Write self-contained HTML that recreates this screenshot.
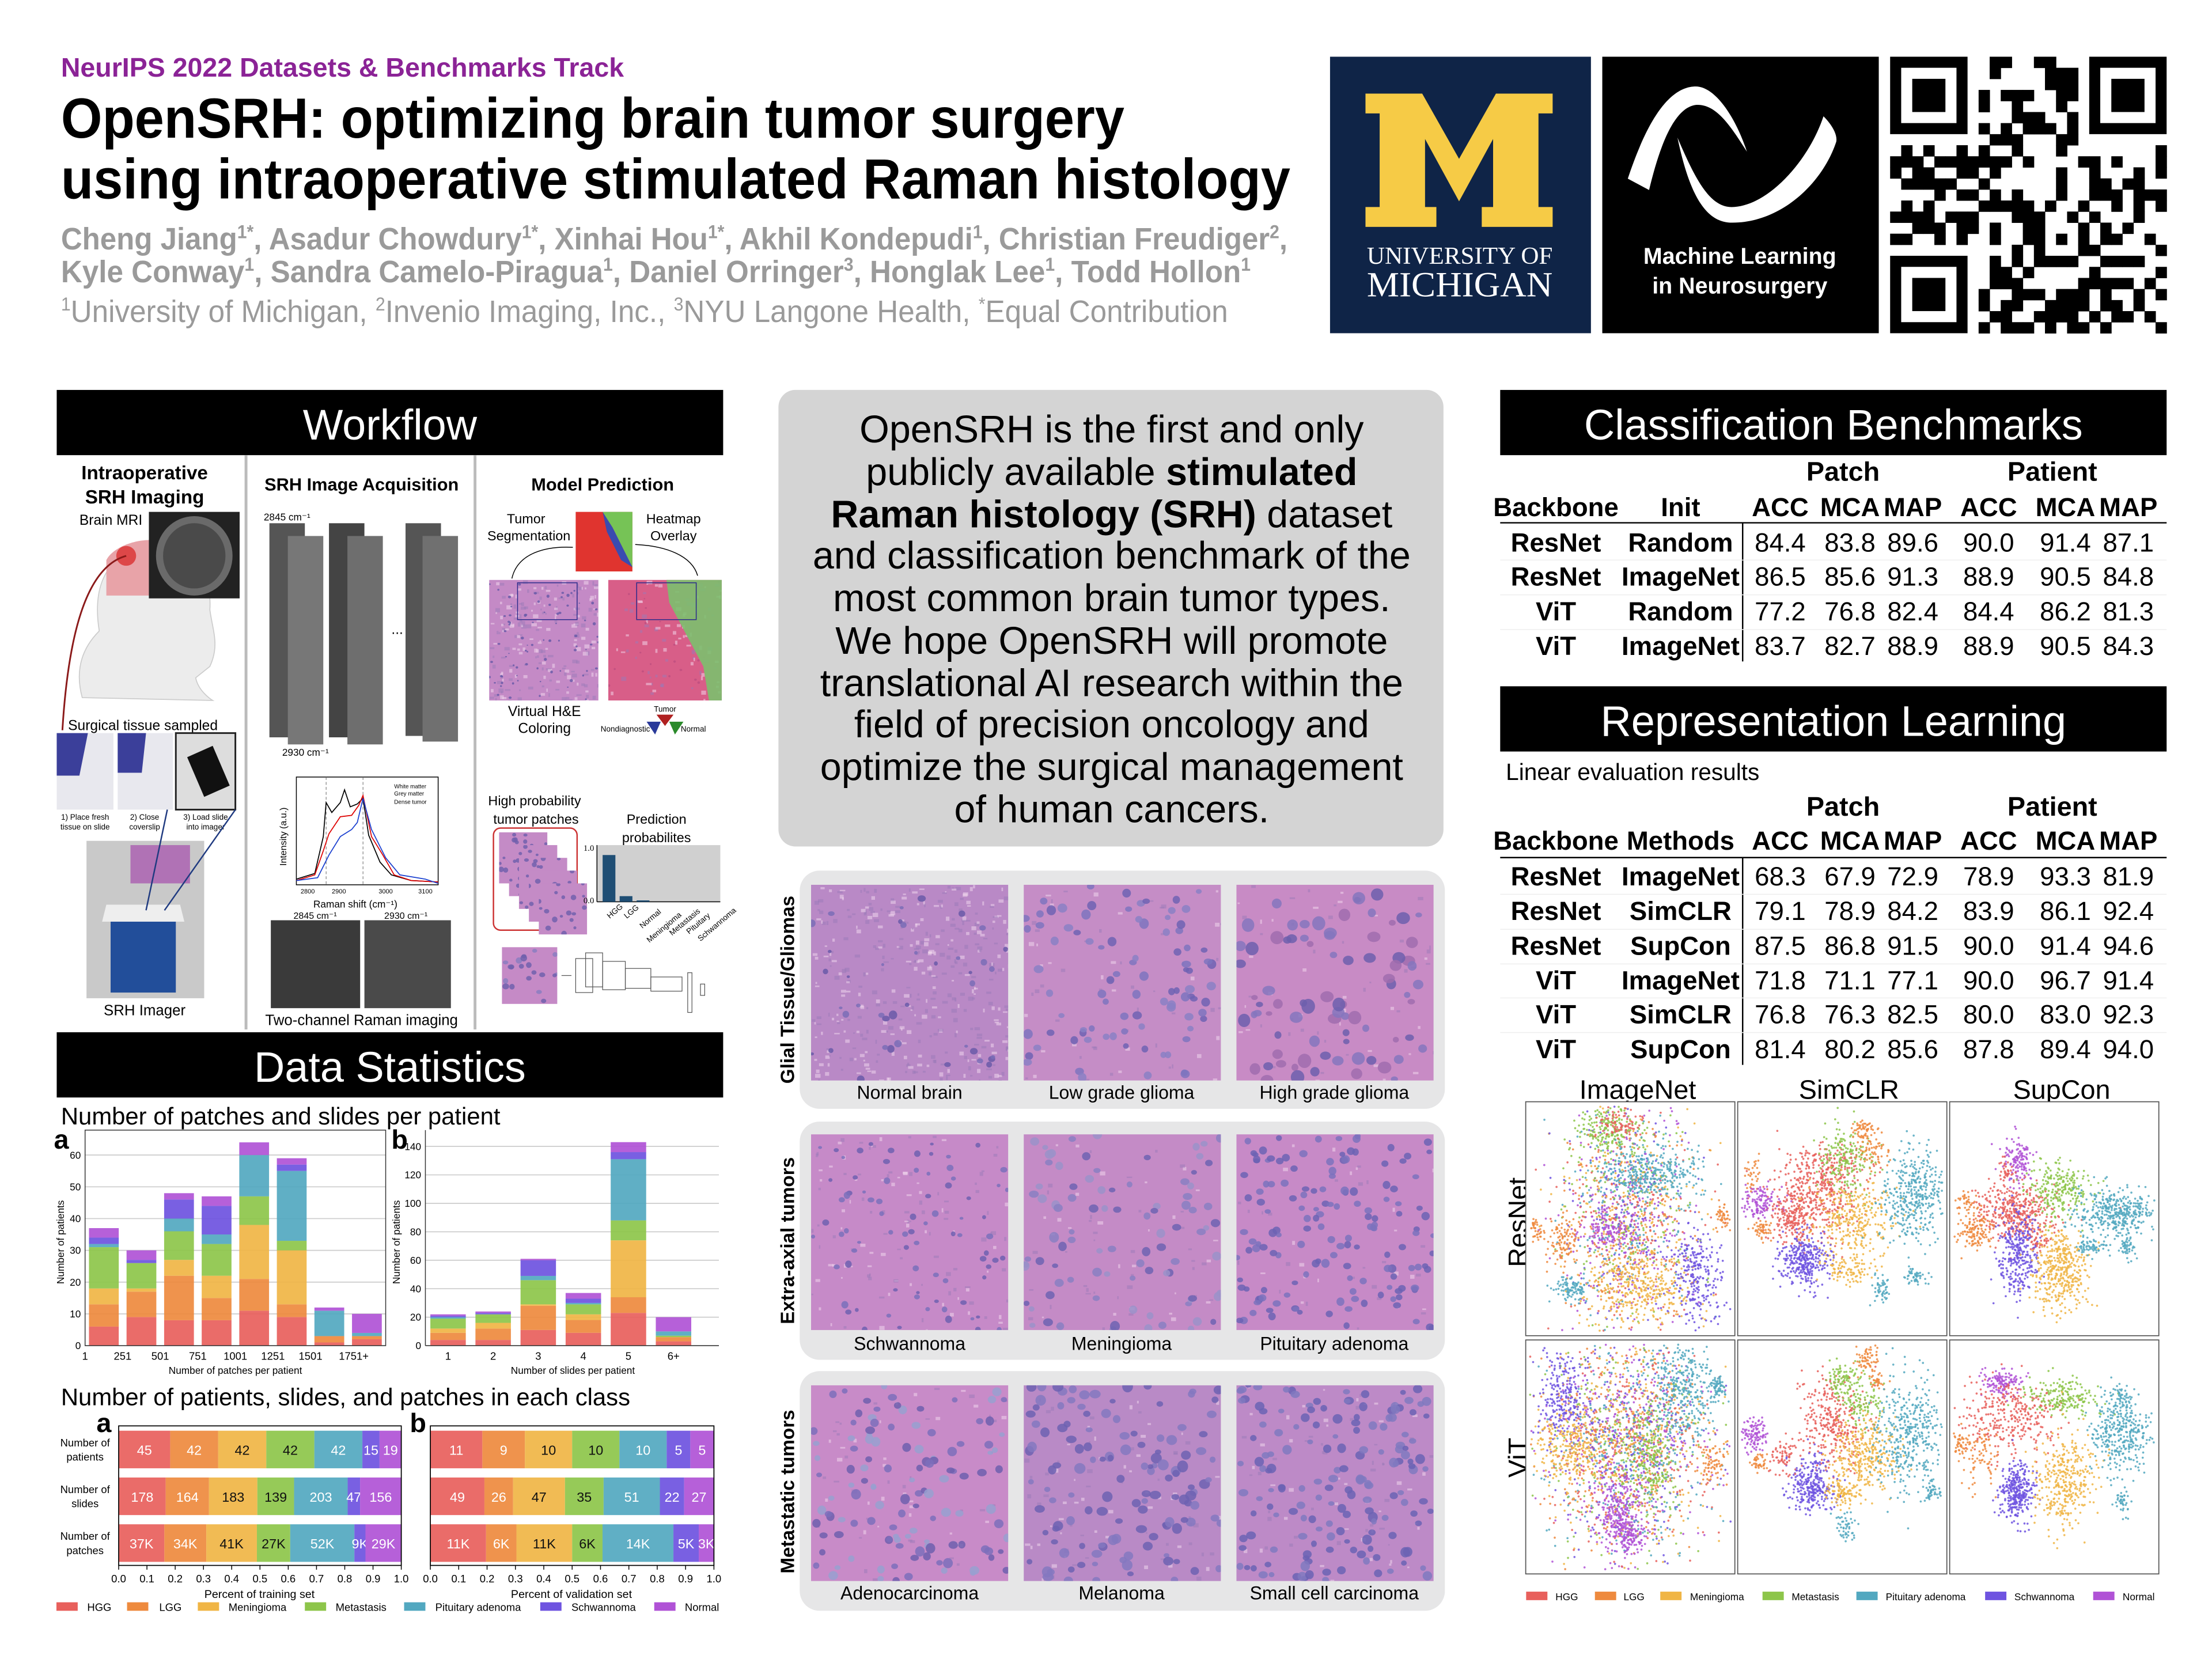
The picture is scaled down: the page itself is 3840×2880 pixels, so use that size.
<!DOCTYPE html>
<html><head><meta charset="utf-8">
<style>
html,body{margin:0;padding:0;background:#fff}
svg{display:block}
text{font-family:"Liberation Sans",Arial,sans-serif}
.b{font-weight:bold}
</style></head>
<body>
<svg id="s" xmlns="http://www.w3.org/2000/svg" width="3840" height="2880" viewBox="0 0 1560 1170">
<rect x="0" y="0" width="1560" height="1170" fill="#fff"/>
<!-- header -->
<text x="43" y="54" class="b" font-size="19" fill="#8B2396" textLength="397" lengthAdjust="spacingAndGlyphs">NeurIPS 2022 Datasets &amp; Benchmarks Track</text>
<text x="43" y="97" class="b" font-size="40" fill="#000" textLength="750" lengthAdjust="spacingAndGlyphs">OpenSRH: optimizing brain tumor surgery</text>
<text x="43" y="140" class="b" font-size="40" fill="#000" textLength="867" lengthAdjust="spacingAndGlyphs">using intraoperative stimulated Raman histology</text>
<text x="43" y="176" class="b" font-size="22" fill="#9a9a9a" textLength="865" lengthAdjust="spacingAndGlyphs">Cheng Jiang<tspan font-size="13" dy="-8">1*</tspan><tspan dy="8">, Asadur Chowdury</tspan><tspan font-size="13" dy="-8">1*</tspan><tspan dy="8">, Xinhai Hou</tspan><tspan font-size="13" dy="-8">1*</tspan><tspan dy="8">, Akhil Kondepudi</tspan><tspan font-size="13" dy="-8">1</tspan><tspan dy="8">, Christian Freudiger</tspan><tspan font-size="13" dy="-8">2</tspan><tspan dy="8">,</tspan></text>
<text x="43" y="199" class="b" font-size="22" fill="#9a9a9a" textLength="839" lengthAdjust="spacingAndGlyphs">Kyle Conway<tspan font-size="13" dy="-8">1</tspan><tspan dy="8">, Sandra Camelo-Piragua</tspan><tspan font-size="13" dy="-8">1</tspan><tspan dy="8">, Daniel Orringer</tspan><tspan font-size="13" dy="-8">3</tspan><tspan dy="8">, Honglak Lee</tspan><tspan font-size="13" dy="-8">1</tspan><tspan dy="8">, Todd Hollon</tspan><tspan font-size="13" dy="-8">1</tspan></text>
<text x="43" y="227" font-size="22" fill="#9a9a9a" textLength="823" lengthAdjust="spacingAndGlyphs"><tspan font-size="13" dy="-8">1</tspan><tspan dy="8">University of Michigan, </tspan><tspan font-size="13" dy="-8">2</tspan><tspan dy="8">Invenio Imaging, Inc., </tspan><tspan font-size="13" dy="-8">3</tspan><tspan dy="8">NYU Langone Health, </tspan><tspan font-size="13" dy="-8">*</tspan><tspan dy="8">Equal Contribution</tspan></text>

<!-- Michigan -->
<rect x="938" y="40" width="184" height="195" fill="#0F2447"/>
<polygon fill="#F6CB46" points="963,66 1003,66 1029,112 1055,66 1095,66 1095,80 1085,80 1085,146 1095,146 1095,160 1045,160 1045,146 1053,146 1053,98 1029,142 1005,98 1005,146 1013,146 1013,160 963,160 963,146 973,146 973,80 963,80"/>
<text x="964" y="186" font-size="17" fill="#fff" textLength="131" lengthAdjust="spacingAndGlyphs" style="font-family:'Liberation Serif',serif">UNIVERSITY OF</text>
<text x="964" y="209" font-size="25" fill="#fff" textLength="131" lengthAdjust="spacingAndGlyphs" style="font-family:'Liberation Serif',serif">MICHIGAN</text>
<!-- ML box -->
<rect x="1130" y="40" width="195" height="195" fill="#000"/>
<path fill="#fff" d="M1148,126 C1160,90 1175,62 1195,61 C1210,60 1225,85 1232,107 C1220,88 1210,73 1196,74 C1180,76 1170,105 1163,134 Z"/>
<path fill="#fff" d="M1183,97 C1195,125 1205,145 1220,146 C1245,147 1275,115 1286,82 C1292,88 1296,95 1295,100 C1285,130 1255,158 1220,157 C1200,156 1190,130 1183,97 Z"/>
<text x="1227" y="186" text-anchor="middle" class="b" font-size="16" fill="#fff">Machine Learning</text>
<text x="1227" y="207" text-anchor="middle" class="b" font-size="16" fill="#fff">in Neurosurgery</text>
<g id="qr"></g>

<!-- Workflow -->
<rect x="40" y="275" width="470" height="46" fill="#000"/>
<text x="275" y="310" text-anchor="middle" font-size="30" fill="#fff">Workflow</text>
<g id="wf">
<line x1="173.5" y1="321" x2="173.5" y2="726" stroke="#bbb" stroke-width="2"/>
<line x1="335" y1="321" x2="335" y2="726" stroke="#bbb" stroke-width="2"/>
<text x="102" y="338" text-anchor="middle" class="b" font-size="13.5">Intraoperative</text>
<text x="102" y="355" text-anchor="middle" class="b" font-size="13.5">SRH Imaging</text>
<text x="56" y="370" font-size="10">Brain MRI</text>
<path d="M58,492 C52,470 60,455 70,445 C66,420 70,395 100,385 C130,380 150,400 148,430 C150,445 155,455 148,470 L138,478 C140,488 150,494 150,494 Z" fill="#ececec" stroke="#ccc" stroke-width="0.7"/>
<path d="M75,395 C80,385 100,378 115,382 L112,420 L75,420 Z" fill="#e8a3a8"/>
<circle cx="89" cy="392" r="7" fill="#d93030" opacity="0.8"/>
<rect x="105" y="361" width="64" height="61" fill="#222"/>
<ellipse cx="137" cy="392" rx="27" ry="28" fill="#6a6a6a"/>
<ellipse cx="137" cy="392" rx="22" ry="23" fill="#4a4a4a"/>
<path d="M89,392 C60,400 48,450 44,515" fill="none" stroke="#8b1a1a" stroke-width="1.2"/>
<text x="48" y="515" font-size="10">Surgical tissue sampled</text>
<rect x="40" y="517" width="40" height="54" fill="#e8e8ee"/><path d="M40,517 h22 l-6,30 h-16z" fill="#3b3f9a"/>
<rect x="83" y="517" width="39" height="54" fill="#e8e8ee"/><path d="M83,517 h20 l-3,28 h-17z" fill="#3b3f9a"/>
<rect x="124" y="517" width="42" height="54" fill="#ddd" stroke="#222" stroke-width="1.2"/><path d="M132,534 l18,-8 l12,28 l-18,8z" fill="#111"/>
<text x="60" y="578" text-anchor="middle" font-size="5.5">1) Place fresh</text><text x="60" y="585" text-anchor="middle" font-size="5.5">tissue on slide</text>
<text x="102" y="578" text-anchor="middle" font-size="5.5">2) Close</text><text x="102" y="585" text-anchor="middle" font-size="5.5">coverslip</text>
<text x="145" y="578" text-anchor="middle" font-size="5.5">3) Load slide</text><text x="145" y="585" text-anchor="middle" font-size="5.5">into imager</text>
<rect x="61" y="593" width="83" height="111" fill="#c9c9c9"/>
<rect x="92" y="596" width="42" height="27" fill="#b072b5"/>
<rect x="78" y="648" width="46" height="52" fill="#224e9a"/>
<path d="M75,638 h52 l3,12 h-58z" fill="#eee"/>
<line x1="118" y1="571" x2="103" y2="642" stroke="#1f3a80" stroke-width="1"/>
<line x1="166" y1="571" x2="116" y2="642" stroke="#1f3a80" stroke-width="1"/>
<text x="102" y="716" text-anchor="middle" font-size="10.5">SRH Imager</text>

<text x="255" y="346" text-anchor="middle" class="b" font-size="12.5">SRH Image Acquisition</text>
<text x="186" y="367" font-size="7">2845 cm⁻¹</text>
<rect x="190" y="369" width="25" height="151" fill="#555"/>
<rect x="203" y="378" width="25" height="147" fill="#777"/>
<rect x="232" y="369" width="25" height="151" fill="#444"/>
<rect x="245" y="378" width="25" height="147" fill="#6e6e6e"/>
<text x="276" y="447" font-size="10">...</text>
<rect x="286" y="369" width="25" height="150" fill="#555"/>
<rect x="298" y="378" width="25" height="145" fill="#707070"/>
<text x="199" y="533" font-size="7">2930 cm⁻¹</text>
<g id="spec"></g>
<text x="221" y="640" font-size="7">Raman shift (cm⁻¹)</text>
<text x="207" y="648" font-size="6.5">2845 cm⁻¹</text><text x="271" y="648" font-size="6.5">2930 cm⁻¹</text>
<rect x="191" y="649" width="63" height="62" fill="#3a3a3a"/>
<rect x="257" y="649" width="61" height="62" fill="#4a4a4a"/>
<text x="255" y="723" text-anchor="middle" font-size="10.5">Two-channel Raman imaging</text>

<text x="425" y="346" text-anchor="middle" class="b" font-size="12.5">Model Prediction</text>
<text x="371" y="369" text-anchor="middle" font-size="9.5">Tumor</text>
<text x="373" y="381" text-anchor="middle" font-size="9.5">Segmentation</text>
<text x="475" y="369" text-anchor="middle" font-size="9.5">Heatmap</text>
<text x="475" y="381" text-anchor="middle" font-size="9.5">Overlay</text>
<rect x="406" y="361" width="40" height="42" fill="#e0342f"/>
<polygon points="425,361 446,361 446,400 440,388 432,372" fill="#76c356"/>
<polygon points="425,361 432,372 440,388 446,400 438,395 428,375" fill="#3a4bb0"/>
<path d="M361,408 C365,390 385,385 404,386" fill="none" stroke="#000" stroke-width="0.6"/>
<path d="M448,384 C470,385 488,392 492,406" fill="none" stroke="#000" stroke-width="0.6"/>
<g id="he"></g>
<text x="384" y="505" text-anchor="middle" font-size="10">Virtual H&amp;E</text>
<text x="384" y="517" text-anchor="middle" font-size="10">Coloring</text>
<text x="469" y="502" text-anchor="middle" font-size="5.5">Tumor</text>
<text x="441" y="516" text-anchor="middle" font-size="5.5">Nondiagnostic</text>
<text x="489" y="516" text-anchor="middle" font-size="5.5">Normal</text>
<polygon points="463,504 475,504 469,512" fill="#b02020"/>
<polygon points="456,509 466,509 462,518" fill="#2a3a9a"/>
<polygon points="472,509 482,509 476,518" fill="#2a8a2a"/>
<text x="377" y="568" text-anchor="middle" font-size="9.5">High probability</text>
<text x="378" y="581" text-anchor="middle" font-size="9.5">tumor patches</text>
<text x="463" y="581" text-anchor="middle" font-size="9.5">Prediction</text>
<text x="463" y="594" text-anchor="middle" font-size="9.5">probabilites</text>
<rect x="348" y="584" width="59" height="72" rx="5" fill="none" stroke="#c33" stroke-width="1"/>
<g id="patches"></g>
<rect x="421" y="596" width="87" height="40" fill="#d0d0d0"/>
<line x1="421" y1="596" x2="421" y2="636" stroke="#000" stroke-width="0.6"/>
<line x1="421" y1="636" x2="508" y2="636" stroke="#000" stroke-width="0.6"/>
<rect x="425" y="603" width="9" height="33" fill="#1f4e74"/>
<rect x="437" y="632" width="9" height="4" fill="#1f4e74"/>
<rect x="449" y="635" width="9" height="1" fill="#1f4e74"/>
<text x="419" y="600" text-anchor="end" font-size="6" style="font-family:'Liberation Serif',serif">1.0</text>
<text x="419" y="637" text-anchor="end" font-size="6" style="font-family:'Liberation Serif',serif">0.0</text>
<g font-size="5.5">
<text transform="translate(430,648) rotate(-40)">HGG</text>
<text transform="translate(442,648) rotate(-40)">LGG</text>
<text transform="translate(453,655) rotate(-40)">Normal</text>
<text transform="translate(458,665) rotate(-40)">Meningioma</text>
<text transform="translate(474,660) rotate(-40)">Metastasis</text>
<text transform="translate(486,659) rotate(-40)">Pituitary</text>
<text transform="translate(494,664) rotate(-40)">Schwannoma</text>
</g>
<g id="smallpatch"></g>
<g fill="none" stroke="#555" stroke-width="0.5">
<line x1="396" y1="688" x2="403" y2="688"/>
<rect x="406" y="676" width="12" height="24"/><rect x="413" y="672" width="12" height="24"/>
<rect x="425" y="678" width="16" height="20"/><rect x="441" y="683" width="18" height="14"/>
<rect x="459" y="689" width="22" height="10"/><rect x="485" y="686" width="3" height="28"/>
<rect x="494" y="694" width="3" height="8"/>
</g>
</g>

<!-- Data statistics -->
<rect x="40" y="728" width="470" height="46" fill="#000"/>
<text x="275" y="763" text-anchor="middle" font-size="30" fill="#fff">Data Statistics</text>
<text x="43" y="793" font-size="17">Number of patches and slides per patient</text>
<text x="38" y="810" class="b" font-size="19">a</text>
<text x="276" y="810" class="b" font-size="19">b</text>
<text x="43" y="991" font-size="17">Number of patients, slides, and patches in each class</text>
<text x="68" y="1010" class="b" font-size="19">a</text>
<text x="289" y="1010" class="b" font-size="19">b</text>
<g id="charts"></g>

<!-- middle -->
<rect x="549" y="275" width="469" height="322" rx="12" fill="#d4d4d4"/>
<g font-size="27" text-anchor="middle" fill="#000">
<text x="784" y="312">OpenSRH is the first and only</text>
<text x="784" y="342">publicly available <tspan class="b">stimulated</tspan></text>
<text x="784" y="372"><tspan class="b">Raman histology (SRH)</tspan> dataset</text>
<text x="784" y="401">and classification benchmark of the</text>
<text x="784" y="431">most common brain tumor types.</text>
<text x="784" y="461">We hope OpenSRH will promote</text>
<text x="784" y="491">translational AI research within the</text>
<text x="784" y="520">field of precision oncology and</text>
<text x="784" y="550">optimize the surgical management</text>
<text x="784" y="580">of human cancers.</text>
</g>
<rect x="564" y="614" width="455" height="168" rx="14" fill="#e6e6e7"/>
<rect x="564" y="791" width="455" height="168" rx="14" fill="#e6e6e7"/>
<rect x="564" y="967" width="455" height="169" rx="14" fill="#e6e6e7"/>
<g class="b" font-size="13.5" text-anchor="middle">
<text transform="translate(560,698) rotate(-90)">Glial Tissue/Gliomas</text>
<text transform="translate(560,875) rotate(-90)">Extra-axial tumors</text>
<text transform="translate(560,1052) rotate(-90)">Metastatic tumors</text>
</g>
<g id="histo"></g>
<g font-size="13" text-anchor="middle">
<text x="641.5" y="775">Normal brain</text><text x="791" y="775">Low grade glioma</text><text x="941" y="775">High grade glioma</text>
<text x="641.5" y="952">Schwannoma</text><text x="791" y="952">Meningioma</text><text x="941" y="952">Pituitary adenoma</text>
<text x="641.5" y="1128">Adenocarcinoma</text><text x="791" y="1128">Melanoma</text><text x="941" y="1128">Small cell carcinoma</text>
</g>

<!-- right -->
<rect x="1058" y="275" width="470" height="46" fill="#000"/>
<text x="1293" y="310" text-anchor="middle" font-size="30" fill="#fff">Classification Benchmarks</text>
<rect x="1058" y="484" width="470" height="46" fill="#000"/>
<text x="1293" y="519" text-anchor="middle" font-size="30" fill="#fff">Representation Learning</text>
<text x="1062" y="550" font-size="16.5">Linear evaluation results</text>
<g id="tables"></g>
<g font-size="19" text-anchor="middle">
<text x="1155" y="775">ImageNet</text><text x="1304" y="775">SimCLR</text><text x="1454" y="775">SupCon</text>
<text transform="translate(1077,862) rotate(-90)">ResNet</text>
<text transform="translate(1077,1028) rotate(-90)">ViT</text>
</g>
<g id="tsne"></g>
</svg>
<script>
(function(){
var NS="http://www.w3.org/2000/svg";
function el(p,t,a,txt){var e=document.createElementNS(NS,t);for(var k in a)e.setAttribute(k,a[k]);if(txt!==undefined)e.textContent=txt;p.appendChild(e);return e;}
function rng(seed){return function(){seed|=0;seed=seed+0x6D2B79F5|0;var t=Math.imul(seed^seed>>>15,1|seed);t=t+Math.imul(t^t>>>7,61|t)^t;return((t^t>>>14)>>>0)/4294967296;}}
var R=rng(12345);
function gauss(){var u=R()||1e-9,v=R();return Math.sqrt(-2*Math.log(u))*Math.cos(2*Math.PI*v);}
var C=["#E8605C","#EE8A3E","#F0B545","#8DC54A","#52A8C0","#6E53E0","#B052D6"];
var NAMES=["HGG","LGG","Meningioma","Metastasis","Pituitary adenoma","Schwannoma","Normal"];

// QR
var qr=document.getElementById("qr");
el(qr,"rect",{x:1333,y:40,width:195,height:195,fill:"#fff"});
var m=7.8,N=25;
function fin(r,c){return (r<7&&c<7)||(r<7&&c>=N-7)||(r>=N-7&&c<7);}
for(var r=0;r<N;r++)for(var c=0;c<N;c++){
 if(fin(r,c)||(r==7&&c<8)||(c==7&&r<8)||(r==7&&c>=N-8)||(c==N-8&&r<8)||(r==N-8&&c<8)||(c==7&&r>=N-8))continue;
 if(R()<0.5)el(qr,"rect",{x:1333+c*m,y:40+r*m,width:m+0.2,height:m+0.2,fill:"#000"});
}
[[0,0],[0,N-7],[N-7,0]].forEach(function(p){
 var x=1333+p[1]*m,y=40+p[0]*m;
 el(qr,"rect",{x:x,y:y,width:7*m,height:7*m,fill:"#000"});
 el(qr,"rect",{x:x+m,y:y+m,width:5*m,height:5*m,fill:"#fff"});
 el(qr,"rect",{x:x+2*m,y:y+2*m,width:3*m,height:3*m,fill:"#000"});
});

// histology texture
function tissue(g,x,y,w,h,base,nuc,n,rmin,rmax,noise){
 el(g,"rect",{x:x,y:y,width:w,height:h,fill:base});
 var cp="cp"+Math.floor(R()*1e9);
 var d=el(g,"clipPath",{id:cp});el(d,"rect",{x:x,y:y,width:w,height:h});
 var gg=el(g,"g",{"clip-path":"url(#"+cp+")"});
 for(var i=0;i<(noise||0);i++){el(gg,"rect",{x:x+R()*w,y:y+R()*h,width:1+R()*3,height:1+R()*2,fill:R()<0.5?"#f3dcef":"#9a7ab8",opacity:0.5});}
 for(var i=0;i<n;i++){var rr=rmin+R()*(rmax-rmin);
  el(gg,"ellipse",{cx:x+R()*w,cy:y+R()*h,rx:rr,ry:rr*(0.7+R()*0.4),fill:nuc[Math.floor(R()*nuc.length)],opacity:0.85});}
}
var H=document.getElementById("histo");
var cols=[572,722,872],rows=[624,800,977];
var spec=[
 ["#b989c6",["#6a5aa8","#7a6db6"],40,1,3,400],
 ["#c58dc6",["#6f63b3","#7e74be","#8a80c4"],90,2,3.5,60],
 ["#c88bc5",["#6d5fad","#8576bd","#a06cae"],80,2,5,60],
 ["#c68ac8",["#6e60b0","#7a70bb"],80,1.2,2.5,120],
 ["#c48bc6",["#6f63b2","#8a7fc2","#9b92c9"],90,2,3.5,60],
 ["#c78ac7",["#6c63b4","#7b72bd"],150,2,3,40],
 ["#c88bc8",["#6f5fae","#7c6fbb","#98a0d0"],120,2,3.5,60],
 ["#b98ac6",["#6d62b2","#8478c0"],130,2,4,80],
 ["#bd8ac7",["#6b63b4","#8079c0"],160,2,3.5,80]
];
var k=0;for(var ri=0;ri<3;ri++)for(var ci=0;ci<3;ci++){var s=spec[k++];tissue(H,cols[ci],rows[ri],139,138,s[0],s[1],s[2],s[3],s[4],s[5]);}
// workflow images
var he=document.getElementById("he");
tissue(he,345,409,77,85,"#c48ac6",["#6a5aa8"],80,0.5,1.2,200);
el(he,"rect",{x:365,y:411,width:42,height:26,fill:"none",stroke:"#2a2a8a","stroke-width":0.6});
tissue(he,429,409,80,85,"#d85e88",["#c04f80"],20,0.5,1,100);
el(he,"polygon",{points:"470,409 509,409 509,494 500,494 496,470 488,455 480,440 472,425",fill:"#7cc06e",opacity:0.9});
el(he,"rect",{x:449,y:411,width:42,height:26,fill:"none",stroke:"#2a2a8a","stroke-width":0.6});
var pt=document.getElementById("patches");
for(var i=0;i<5;i++)tissue(pt,352+i*7,587+i*9,34,36,"#c48bc6",["#7260ad"],18,1,2,0);
tissue(document.getElementById("smallpatch"),354,668,39,40,"#c58ac6",["#7060ad","#8a7cc0"],20,1.3,2.5,0);
// spectrum
var sp=document.getElementById("spec");
el(sp,"rect",{x:209,y:548,width:100,height:76,fill:"#fff",stroke:"#000","stroke-width":0.6});
el(sp,"line",{x1:230,y1:548,x2:230,y2:624,stroke:"#666","stroke-width":0.4,"stroke-dasharray":"2,1.5"});
el(sp,"line",{x1:256,y1:548,x2:256,y2:624,stroke:"#666","stroke-width":0.4,"stroke-dasharray":"2,1.5"});
el(sp,"polyline",{points:"209,620 222,616 228,590 230,566 234,573 240,566 243,557 247,569 252,567 256,563 260,589 268,608 276,617 290,621 309,622",fill:"none",stroke:"#000","stroke-width":0.7});
el(sp,"polyline",{points:"209,621 222,617 228,600 232,588 240,576 248,575 253,568 256,561 262,590 270,603 278,617 290,621 309,622",fill:"none",stroke:"#d00","stroke-width":0.7});
el(sp,"polyline",{points:"209,621 224,619 232,603 240,590 248,585 252,580 256,563 262,585 272,605 282,617 300,620 309,623",fill:"none",stroke:"#1a3fcf","stroke-width":0.7});
el(sp,"text",{x:202,y:590,"font-size":6.5,transform:"rotate(-90,202,590)","text-anchor":"middle"},"Intensity (a.u.)");
[[214,"2800"],[236,"2900"],[269,"3000"],[297,"3100"]].forEach(function(a){el(sp,"text",{x:a[0]+3,y:630,"font-size":4.5,"text-anchor":"middle"},a[1]);});
el(sp,"text",{x:278,y:556,"font-size":4},"White matter");el(sp,"text",{x:278,y:561,"font-size":4},"Grey matter");el(sp,"text",{x:278,y:567,"font-size":4},"Dense tumor");

// charts
var ch=document.getElementById("charts");
function txt(p,x,y,s,t,a){var o={x:x,y:y,"font-size":s};if(a)o["text-anchor"]=a;return el(p,"text",o,t);}
(function(){
 var x0=60,x1=272,yb=949,sc=2.24,top=800;
 for(var v=0;v<=60;v+=10){var y=yb-v*sc;el(ch,"line",{x1:x0,y1:y,x2:x1,y2:y,stroke:"#ccc","stroke-width":0.7});txt(ch,x0-3,y+2.5,7,String(v),"end");}
 var D=[[6,7,5,13,1,2,3],[9,8,1,8,0,1,3],[8,14,5,9,4,6,2],[8,7,7,10,3,9,3],[11,10,17,9,13,0,4],[9,4,17,3,22,2,2],[1,2,0,0,8,0,1],[2,1,0,0,1,0,6]];
 var bw=26.5;
 D.forEach(function(d,i){var cx=x0+(i+0.5)*bw,acc=0;d.forEach(function(v,j){if(!v)return;el(ch,"rect",{x:cx-10.5,y:yb-(acc+v)*sc,width:21,height:v*sc,fill:C[j],opacity:0.92});acc+=v;});});
 ["1","251","501","751","1001","1251","1501","1751+"].forEach(function(l,i){txt(ch,x0+i*bw+(i==7?4:0),959,7.5,l,"middle");});
 el(ch,"rect",{x:x0,y:top-3,width:x1-x0,height:yb-top+3,fill:"none",stroke:"#333","stroke-width":0.6});
 txt(ch,166,969,7,"Number of patches per patient","middle");
 el(ch,"text",{x:45,y:876,"font-size":7,"text-anchor":"middle",transform:"rotate(-90,45,876)"},"Number of patients");
})();
(function(){
 var x0=300,x1=507,yb=949,sc=1.0036,top=800;
 for(var v=0;v<=140;v+=20){var y=yb-v*sc;el(ch,"line",{x1:x0,y1:y,x2:x1,y2:y,stroke:"#ccc","stroke-width":0.7});txt(ch,x0-3,y+2.5,7,String(v),"end");}
 var D=[[4,5,3,7,1,1,1],[4,8,4,6,0,1,1],[11,17,1,17,3,11,1],[9,9,4,7,1,3,4],[23,11,40,14,43,5,7],[3,3,0,1,3,0,10]];
 D.forEach(function(d,i){var cx=316+i*31.8,acc=0;d.forEach(function(v,j){if(!v)return;el(ch,"rect",{x:cx-12.5,y:yb-(acc+v)*sc,width:25,height:v*sc,fill:C[j],opacity:0.92});acc+=v;});
  txt(ch,cx,959,7.5,["1","2","3","4","5","6+"][i],"middle");});
 el(ch,"line",{x1:x0,y1:top-3,x2:x0,y2:yb,stroke:"#333","stroke-width":0.6});
 el(ch,"line",{x1:x0,y1:yb,x2:x1,y2:yb,stroke:"#333","stroke-width":0.6});
 txt(ch,404,969,7,"Number of slides per patient","middle");
 el(ch,"text",{x:282,y:876,"font-size":7,"text-anchor":"middle",transform:"rotate(-90,282,876)"},"Number of patients");
})();
function hb(x0,x1,data,lab,leftlabels){
 var w=x1-x0,ys=[1009,1042,1075];
 data.forEach(function(d,ri){var s=d.reduce(function(a,b){return a+b;},0),acc=0;
  d.forEach(function(v,j){var xa=x0+acc/s*w,ww=v/s*w;el(ch,"rect",{x:xa,y:ys[ri],width:ww,height:26.5,fill:C[j],opacity:0.92});
   txt(ch,xa+ww/2,ys[ri]+17,9.5,lab[ri][j],"middle").setAttribute("fill",(j==2||j==3)?"#111":"#fff");acc+=v;});});
 el(ch,"rect",{x:x0,y:1005.6,width:w,height:98.4,fill:"none",stroke:"#000","stroke-width":0.7});
 for(var i=0;i<=10;i++){var x=x0+i/10*w;el(ch,"line",{x1:x,y1:1104,x2:x,y2:1107,stroke:"#000","stroke-width":0.6});txt(ch,x,1116,7.5,(i/10).toFixed(1),"middle");}
 if(leftlabels){[["Number of","patients"],["Number of","slides"],["Number of","patches"]].forEach(function(l,ri){txt(ch,60,ys[ri]+11,7.5,l[0],"middle");txt(ch,60,ys[ri]+21,7.5,l[1],"middle");});}
}
hb(83.7,283,[[45,42,42,42,42,15,19],[178,164,183,139,203,47,156],[37,34,41,27,52,9,29]],
 [["45","42","42","42","42","15","19"],["178","164","183","139","203","47","156"],["37K","34K","41K","27K","52K","9K","29K"]],true);
hb(303.5,503.5,[[11,9,10,10,10,5,5],[49,26,47,35,51,22,27],[11,6,11,6,14,5,3]],
 [["11","9","10","10","10","5","5"],["49","26","47","35","51","22","27"],["11K","6K","11K","6K","14K","5K","3K"]],false);
txt(ch,183,1127,8,"Percent of training set","middle");
txt(ch,403,1127,8,"Percent of validation set","middle");
[[39.8,61.5],[89.6,112.3],[139.5,161.2],[215,236.7],[285,307],[381,403],[461.4,483]].forEach(function(p,i){
 el(ch,"rect",{x:p[0],y:1130,width:15,height:6,fill:C[i]});txt(ch,p[1],1136,7.5,NAMES[i]);});

// tables
var T=document.getElementById("tables");
var cx=[1097.3,1185.2,1255.5,1304.7,1349,1402.5,1456.6,1501];
function table(yP,yH,yRows,hdr2,rows,ylineTop,ylineBot){
 txt(T,1299.8,yP,19,"Patch","middle").setAttribute("font-weight","bold");
 txt(T,1447.4,yP,19,"Patient","middle").setAttribute("font-weight","bold");
 var Hh=["Backbone",hdr2,"ACC","MCA","MAP","ACC","MCA","MAP"];
 Hh.forEach(function(h,i){txt(T,cx[i],yH,18.5,h,"middle").setAttribute("font-weight","bold");});
 el(T,"line",{x1:1058,y1:ylineTop,x2:1528,y2:ylineTop,stroke:"#000","stroke-width":1});
 el(T,"line",{x1:1229,y1:ylineTop,x2:1229,y2:ylineBot,stroke:"#000","stroke-width":1});
 rows.forEach(function(r,ri){r.forEach(function(v,i){var t=txt(T,cx[i],yRows[ri],18.5,v,"middle");if(i<2)t.setAttribute("font-weight","bold");});
  if(ri>0)el(T,"line",{x1:1058,y1:yRows[ri]-18,x2:1528,y2:yRows[ri]-18,stroke:"#eee","stroke-width":0.6});});
}
table(339,364,[389,413,437.5,462],"Init",[
 ["ResNet","Random","84.4","83.8","89.6","90.0","91.4","87.1"],
 ["ResNet","ImageNet","86.5","85.6","91.3","88.9","90.5","84.8"],
 ["ViT","Random","77.2","76.8","82.4","84.4","86.2","81.3"],
 ["ViT","ImageNet","83.7","82.7","88.9","88.9","90.5","84.3"]],368.7,466.5);
table(575.3,599.3,[624.4,648.7,673.4,697.8,721.8,746.2],"Methods",[
 ["ResNet","ImageNet","68.3","67.9","72.9","78.9","93.3","81.9"],
 ["ResNet","SimCLR","79.1","78.9","84.2","83.9","86.1","92.4"],
 ["ResNet","SupCon","87.5","86.8","91.5","90.0","91.4","94.6"],
 ["ViT","ImageNet","71.8","71.1","77.1","90.0","96.7","91.4"],
 ["ViT","SimCLR","76.8","76.3","82.5","80.0","83.0","92.3"],
 ["ViT","SupCon","81.4","80.2","85.6","87.8","89.4","94.0"]],604.8,751);

// tsne
var TS=document.getElementById("tsne");
var frames=[[1076,777],[1225.5,777],[1375,777],[1076,945],[1225.5,945],[1375,945]];
var FW=147.5,FH=165;
var CL=[
 [[0.5,0.5,0.16,0.24,900,-1],[0.4,0.12,0.08,0.05,120,3],[0.45,0.1,0.05,0.03,50,0],[0.6,0.3,0.12,0.06,200,4],[0.55,0.8,0.12,0.07,200,2],[0.82,0.75,0.06,0.1,150,5],[0.4,0.55,0.06,0.04,80,6],[0.18,0.6,0.03,0.05,60,1],[0.95,0.5,0.02,0.03,30,1],[0.05,0.55,0.02,0.03,25,1],[0.22,0.8,0.04,0.025,60,4]],
 [[0.42,0.3,0.1,0.06,150,0],[0.52,0.25,0.07,0.07,120,3],[0.65,0.2,0.04,0.04,40,1],[0.6,0.12,0.03,0.02,30,1],[0.35,0.45,0.1,0.08,200,0],[0.55,0.5,0.1,0.08,200,2],[0.32,0.68,0.06,0.06,200,5],[0.52,0.72,0.06,0.03,60,2],[0.85,0.4,0.08,0.1,250,4],[0.85,0.75,0.03,0.02,30,4],[0.68,0.8,0.025,0.03,30,4],[0.1,0.43,0.05,0.04,80,6],[0.12,0.55,0.02,0.02,30,1],[0.07,0.3,0.02,0.03,20,1],[0.25,0.5,0.04,0.05,60,0]],
 [[0.32,0.25,0.04,0.05,80,6],[0.27,0.3,0.02,0.02,20,0],[0.32,0.47,0.09,0.06,250,0],[0.52,0.38,0.07,0.06,150,3],[0.33,0.65,0.05,0.09,200,5],[0.52,0.72,0.07,0.09,250,2],[0.8,0.47,0.1,0.05,250,4],[0.68,0.62,0.04,0.02,40,4],[0.85,0.62,0.02,0.03,30,4],[0.12,0.55,0.04,0.04,80,1],[0.08,0.43,0.02,0.02,20,1],[0.42,0.6,0.03,0.02,20,0]],
 [[0.5,0.45,0.2,0.25,1400,-1],[0.18,0.25,0.06,0.1,150,5],[0.75,0.2,0.07,0.12,200,4],[0.45,0.75,0.05,0.07,150,6],[0.5,0.85,0.04,0.03,60,6],[0.2,0.45,0.08,0.08,150,2],[0.9,0.52,0.03,0.04,40,1],[0.92,0.2,0.02,0.03,40,4],[0.6,0.5,0.05,0.1,100,3]],
 [[0.45,0.35,0.08,0.1,200,0],[0.5,0.17,0.04,0.04,60,3],[0.6,0.27,0.05,0.05,60,3],[0.62,0.08,0.03,0.03,40,1],[0.67,0.18,0.02,0.02,20,1],[0.6,0.5,0.08,0.08,200,2],[0.35,0.62,0.06,0.06,180,5],[0.5,0.65,0.05,0.03,60,2],[0.82,0.4,0.08,0.12,250,4],[0.93,0.65,0.02,0.02,25,4],[0.52,0.8,0.02,0.03,30,4],[0.08,0.4,0.04,0.04,70,6],[0.1,0.52,0.02,0.02,25,1],[0.22,0.5,0.03,0.04,40,0]],
 [[0.25,0.18,0.05,0.03,80,6],[0.3,0.33,0.12,0.08,200,0],[0.55,0.25,0.08,0.04,120,3],[0.32,0.65,0.04,0.06,200,5],[0.55,0.6,0.07,0.1,220,2],[0.82,0.4,0.07,0.08,220,4],[0.82,0.25,0.02,0.02,25,4],[0.83,0.7,0.02,0.03,25,4],[0.05,0.45,0.02,0.02,25,1],[0.15,0.5,0.05,0.06,50,1]]
];
frames.forEach(function(f,fi){
 el(TS,"rect",{x:f[0],y:f[1],width:FW,height:FH,fill:"#fff",stroke:"#555","stroke-width":0.7});
 CL[fi].forEach(function(c){var n=Math.round(c[4]*1.6);for(var i=0;i<n;i++){
  var x=c[0]+gauss()*c[2],y=c[1]+gauss()*c[3];if(x<0.02||x>0.98||y<0.02||y>0.98)continue;
  var ci=c[5]<0?Math.floor(R()*7):c[5];
  el(TS,"circle",{cx:f[0]+x*FW,cy:f[1]+y*FH,r:0.75,fill:C[ci],opacity:0.85});}});
});
[[1076.3,1097],[1124.8,1145],[1170.9,1191.9],[1243,1263.6],[1309.2,1329.9],[1400,1420.6],[1476.2,1497]].forEach(function(p,i){
 el(TS,"rect",{x:p[0],y:1122.5,width:15,height:6,fill:C[i]});txt(TS,p[1],1128.5,7,NAMES[i]);});
})();
</script>
</body></html>
